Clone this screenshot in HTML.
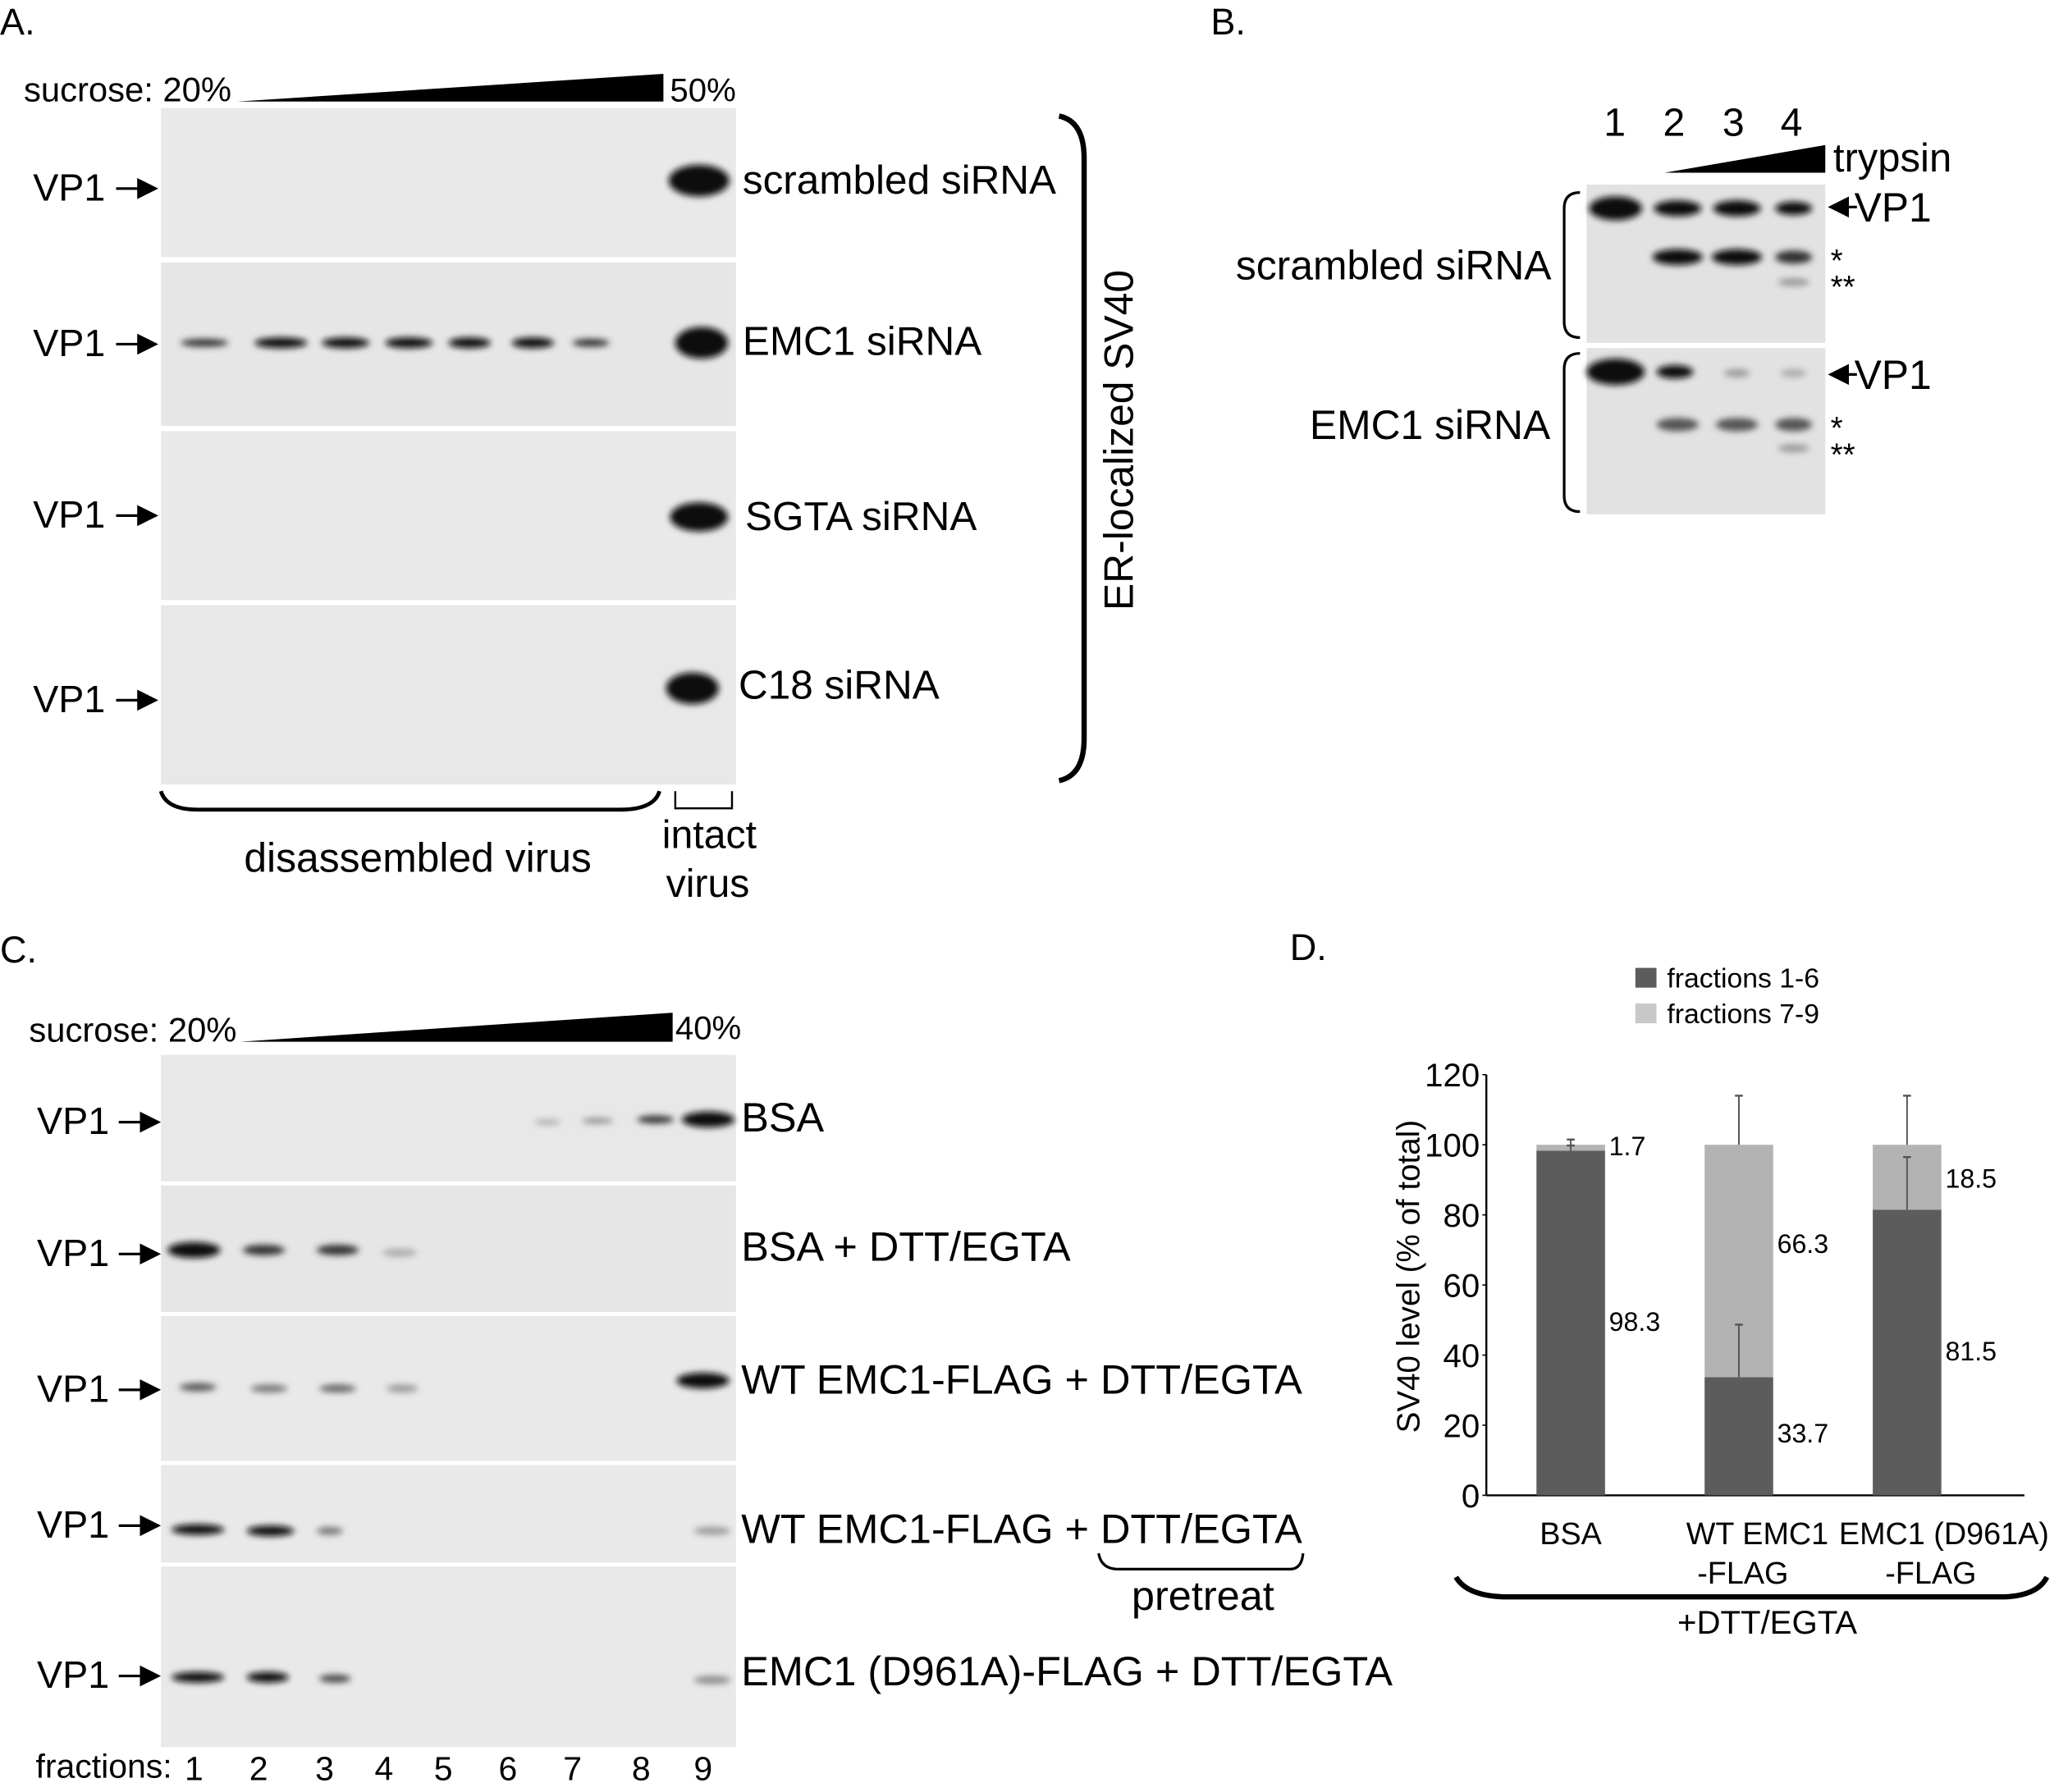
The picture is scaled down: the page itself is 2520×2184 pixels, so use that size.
<!DOCTYPE html>
<html><head><meta charset="utf-8"><style>
html,body{margin:0;padding:0;background:#fff}
svg{display:block;font-family:"Liberation Sans",Arial,sans-serif}
</style></head><body>
<svg width="2520" height="2184" viewBox="0 0 1568 1359" xmlns="http://www.w3.org/2000/svg">
<defs>
<filter id="bl" x="-50%" y="-200%" width="200%" height="500%"><feGaussianBlur stdDeviation="2.5"/></filter>
<marker id="ar" markerWidth="8" markerHeight="8" refX="7" refY="4" orient="auto"><path d="M0,0 L8,4 L0,8 Z" fill="#000"/></marker>
</defs>
<g font-size="30.8" fill="#000">
<!-- Panel A -->
<text x="0" y="26" font-size="28">A.</text>
<text x="18" y="77" font-size="26">sucrose: 20%</text>
<polygon points="180,77 503,56 503,77" fill="#000"/>
<text x="508" y="77" font-size="25">50%</text>
<g>
<rect x="122" y="82" width="436" height="113" fill="#e9e9e9"/>
<rect x="122" y="199" width="436" height="124" fill="#e6e6e6"/>
<rect x="122" y="327" width="436" height="128" fill="#e9e9e9"/>
<rect x="122" y="459" width="436" height="136" fill="#e8e8e8"/>
<g filter="url(#bl)" fill="#111">
<ellipse cx="530" cy="137" rx="23" ry="12"/>
<ellipse cx="532" cy="260" rx="20" ry="12"/>
<ellipse cx="530" cy="392" rx="22" ry="11"/>
<ellipse cx="525" cy="522" rx="20" ry="12"/>
<ellipse cx="155" cy="260" rx="18" ry="3" fill="#333"/>
<ellipse cx="213" cy="260" rx="20" ry="4"/>
<ellipse cx="262" cy="260" rx="18" ry="4"/>
<ellipse cx="310" cy="260" rx="18" ry="4"/>
<ellipse cx="356" cy="260" rx="16" ry="4"/>
<ellipse cx="404" cy="260" rx="16" ry="4"/>
<ellipse cx="448" cy="260" rx="14" ry="3" fill="#333"/>
</g></g>
<g font-size="29">
<text x="25" y="152">VP1</text><line x1="88" y1="143" x2="118" y2="143" stroke="#000" stroke-width="2" marker-end="url(#ar)"/>
<text x="25" y="270">VP1</text><line x1="88" y1="261" x2="118" y2="261" stroke="#000" stroke-width="2" marker-end="url(#ar)"/>
<text x="25" y="400">VP1</text><line x1="88" y1="391" x2="118" y2="391" stroke="#000" stroke-width="2" marker-end="url(#ar)"/>
<text x="25" y="540">VP1</text><line x1="88" y1="531" x2="118" y2="531" stroke="#000" stroke-width="2" marker-end="url(#ar)"/>
</g>
<text x="563" y="147">scrambled siRNA</text>
<text x="563" y="269">EMC1 siRNA</text>
<text x="565" y="402">SGTA siRNA</text>
<text x="560" y="530">C18 siRNA</text>
<path d="M803,88 Q822,92 822,120 L822,560 Q822,588 803,592" fill="none" stroke="#000" stroke-width="4"/>
<text transform="translate(859,463) rotate(-90)" font-size="31">ER-localized SV40</text>
<path d="M122,600 Q126,614 150,614 L470,614 Q496,614 500,600" fill="none" stroke="#000" stroke-width="3"/>
<path d="M512,600 L512,613 L555,613 L555,600" fill="none" stroke="#000" stroke-width="1.5"/>
<text x="185" y="661" font-size="31">disassembled virus</text>
<text x="502" y="643" font-size="30">intact</text>
<text x="505" y="680" font-size="30">virus</text>

<!-- Panel B -->
<text x="918" y="26" font-size="28">B.</text>
<g font-size="30">
<text x="1216" y="103">1</text><text x="1261" y="103">2</text><text x="1306" y="103">3</text><text x="1350" y="103">4</text>
</g>
<polygon points="1262,131 1384,110 1384,131" fill="#000"/>
<text x="1390" y="130" font-size="30.5">trypsin</text>
<g>
<rect x="1203" y="140" width="181" height="120" fill="#e2e2e2"/>
<rect x="1203" y="264" width="181" height="126" fill="#e2e2e2"/>
<g filter="url(#bl)" fill="#111">
<ellipse cx="1225" cy="158" rx="20" ry="9"/><ellipse cx="1272" cy="158" rx="18" ry="6"/><ellipse cx="1317" cy="158" rx="18" ry="6"/><ellipse cx="1360" cy="158" rx="14" ry="5"/>
<ellipse cx="1272" cy="195" rx="19" ry="6"/><ellipse cx="1317" cy="195" rx="19" ry="6"/><ellipse cx="1360" cy="195" rx="14" ry="5" fill="#333"/>
<ellipse cx="1360" cy="214" rx="12" ry="3" fill="#999"/>
<ellipse cx="1225" cy="282" rx="22" ry="10"/><ellipse cx="1270" cy="282" rx="14" ry="5"/>
<ellipse cx="1317" cy="283" rx="10" ry="3" fill="#999"/><ellipse cx="1360" cy="283" rx="10" ry="3" fill="#aaa"/>
<ellipse cx="1272" cy="322" rx="16" ry="5" fill="#555"/><ellipse cx="1317" cy="322" rx="16" ry="5" fill="#555"/><ellipse cx="1360" cy="322" rx="14" ry="5" fill="#555"/>
<ellipse cx="1360" cy="340" rx="12" ry="3" fill="#999"/>
</g></g>
<line x1="1408" y1="157" x2="1388" y2="157" stroke="#000" stroke-width="2" marker-end="url(#ar)"/>
<text x="1406" y="168" font-size="31">VP1</text>
<line x1="1408" y1="284" x2="1388" y2="284" stroke="#000" stroke-width="2" marker-end="url(#ar)"/>
<text x="1406" y="295" font-size="31">VP1</text>
<text x="1388" y="206" font-size="24">*</text>
<text x="1388" y="226" font-size="24">**</text>
<text x="1388" y="333" font-size="24">*</text>
<text x="1388" y="353" font-size="24">**</text>
<path d="M1198,146 Q1186,146 1186,158 L1186,244 Q1186,256 1198,256" fill="none" stroke="#000" stroke-width="2"/>
<path d="M1198,268 Q1186,268 1186,280 L1186,376 Q1186,388 1198,388" fill="none" stroke="#000" stroke-width="2"/>
<text x="937" y="212" font-size="31">scrambled siRNA</text>
<text x="993" y="333" font-size="31">EMC1 siRNA</text>

<!-- Panel C -->
<text x="0" y="730" font-size="28">C.</text>
<text x="22" y="790" font-size="26">sucrose: 20%</text>
<polygon points="182,790 510,768 510,790" fill="#000"/>
<text x="512" y="788" font-size="25">40%</text>
<g>
<rect x="122" y="800" width="436" height="96" fill="#e8e8e8"/>
<rect x="122" y="899" width="436" height="96" fill="#e6e6e6"/>
<rect x="122" y="998" width="436" height="110" fill="#e9e9e9"/>
<rect x="122" y="1111" width="436" height="74" fill="#e9e9e9"/>
<rect x="122" y="1188" width="436" height="137" fill="#e9e9e9"/>
<g filter="url(#bl)" fill="#111">
<ellipse cx="537" cy="849" rx="20" ry="6"/><ellipse cx="497" cy="849" rx="14" ry="3" fill="#333"/><ellipse cx="453" cy="850" rx="12" ry="2" fill="#888"/><ellipse cx="415" cy="851" rx="10" ry="2" fill="#aaa"/>
<ellipse cx="147" cy="948" rx="20" ry="6"/><ellipse cx="200" cy="948" rx="16" ry="4" fill="#333"/><ellipse cx="256" cy="948" rx="16" ry="4" fill="#333"/><ellipse cx="303" cy="950" rx="13" ry="3" fill="#aaa"/>
<ellipse cx="533" cy="1047" rx="20" ry="6"/><ellipse cx="150" cy="1052" rx="14" ry="3" fill="#555"/><ellipse cx="204" cy="1053" rx="14" ry="3" fill="#777"/><ellipse cx="256" cy="1053" rx="14" ry="3" fill="#666"/><ellipse cx="305" cy="1053" rx="12" ry="3" fill="#999"/>
<ellipse cx="150" cy="1160" rx="20" ry="4"/><ellipse cx="205" cy="1161" rx="18" ry="4"/><ellipse cx="250" cy="1161" rx="10" ry="3" fill="#777"/><ellipse cx="540" cy="1161" rx="14" ry="3" fill="#999"/>
<ellipse cx="150" cy="1272" rx="20" ry="4"/><ellipse cx="203" cy="1272" rx="16" ry="4"/><ellipse cx="254" cy="1273" rx="12" ry="3" fill="#444"/><ellipse cx="540" cy="1274" rx="14" ry="3" fill="#888"/>
</g></g>
<g font-size="29">
<text x="28" y="860">VP1</text><line x1="90" y1="851" x2="120" y2="851" stroke="#000" stroke-width="2" marker-end="url(#ar)"/>
<text x="28" y="960">VP1</text><line x1="90" y1="951" x2="120" y2="951" stroke="#000" stroke-width="2" marker-end="url(#ar)"/>
<text x="28" y="1063">VP1</text><line x1="90" y1="1054" x2="120" y2="1054" stroke="#000" stroke-width="2" marker-end="url(#ar)"/>
<text x="28" y="1166">VP1</text><line x1="90" y1="1157" x2="120" y2="1157" stroke="#000" stroke-width="2" marker-end="url(#ar)"/>
<text x="28" y="1280">VP1</text><line x1="90" y1="1271" x2="120" y2="1271" stroke="#000" stroke-width="2" marker-end="url(#ar)"/>
</g>
<g font-size="31.4">
<text x="562" y="858">BSA</text>
<text x="562" y="956">BSA + DTT/EGTA</text>
<text x="562" y="1057">WT EMC1-FLAG + DTT/EGTA</text>
<text x="562" y="1170">WT EMC1-FLAG + DTT/EGTA</text>
<text x="858" y="1221">pretreat</text>
<text x="562" y="1278">EMC1 (D961A)-FLAG + DTT/EGTA</text>
</g>
<path d="M833,1178 Q835,1190 848,1190 L978,1190 Q987,1190 988,1178" fill="none" stroke="#000" stroke-width="2"/>
<g font-size="25.5">
<text x="27" y="1348">fractions:</text>
<text x="140" y="1350">1</text><text x="189" y="1350">2</text><text x="239" y="1350">3</text><text x="284" y="1350">4</text><text x="329" y="1350">5</text><text x="378" y="1350">6</text><text x="427" y="1350">7</text><text x="479" y="1350">8</text><text x="526" y="1350">9</text>
</g>

<!-- Panel D -->
<text x="978" y="728" font-size="28">D.</text>
<g id="chartD"></g>
</g>
<script>
const categories=["BSA","WT EMC1|-FLAG","EMC1 (D961A)|-FLAG"];
const lowVals=[98.3,33.7,81.5];
const highVals=[1.7,66.3,18.5];
const lowErr=[1.5,15,15];
const topErr=[1.5,14,14];
const yTicks=[0,20,40,60,80,100,120];
(function(){
const NS="http://www.w3.org/2000/svg";
const g=document.getElementById('chartD');
const x0=1127,yBase=1134,yTop=815,yMax=120;
const y=v=>yBase-(yBase-yTop)*v/yMax;
const xc=i=>1191+i*127.5;
const bw=52;
const labOff=[[0,0],[14,3],[28,18]];
function mk(t,a,txt){const e=document.createElementNS(NS,t);for(const k in a)e.setAttribute(k,a[k]);if(txt!=null)e.textContent=txt;g.appendChild(e);return e;}
let e;
e=mk('line',{x1:x0,y1:yTop,x2:x0,y2:yBase,stroke:'#000','stroke-width':1.5});


e=mk('line',{x1:x0,y1:yBase,x2:1535,y2:yBase,stroke:'#000','stroke-width':1.5});


yTicks.forEach(t=>{
 e=mk('text',{x:x0-5,y:y(t)+9,'text-anchor':'end','font-size':25},String(t));
 
 
 mk('line',{x1:x0-3,y1:y(t),x2:x0,y2:y(t),stroke:'#000'});
});
e=mk('text',{transform:'translate(1076,968) rotate(-90)','text-anchor':'middle','font-size':24},'SV40 level (% of total)');


categories.forEach((c,i)=>{
 const lo=lowVals[i],hi=highVals[i];
 e=mk('rect',{x:xc(i)-bw/2,y:y(lo),width:bw,height:yBase-y(lo),fill:'#5c5c5c'});
 
 
 e=mk('rect',{x:xc(i)-bw/2,y:y(lo+hi),width:bw,height:y(lo)-y(lo+hi),fill:'#b3b3b3'});
 
 
 [[lo,lowErr[i]],[lo+hi,topErr[i]]].forEach(([v,er])=>{
  mk('line',{x1:xc(i),y1:y(v),x2:xc(i),y2:y(v+er),stroke:'#555','stroke-width':1.2});
  mk('line',{x1:xc(i)-3,y1:y(v+er),x2:xc(i)+3,y2:y(v+er),stroke:'#555','stroke-width':1.5});
 });
 const tx=xc(i)+bw/2+3;
 const hiY=hi<5?y(lo+hi)+8:y(lo+hi/2)-(i==1?6:-8);
 e=mk('text',{x:tx,y:hiY,'font-size':20},String(hi));
 
 
 const loY=i==1?yBase-40:y(lo/2)+6;
 e=mk('text',{x:tx,y:i==0?y(lo/2)+6:loY,'font-size':20},String(lo));
 
 
 const parts=c.split('|');
 parts.forEach((p,j)=>{
  e=mk('text',{x:xc(i)+labOff[i][j],y:1171+j*30,'text-anchor':'middle','font-size':23.5},p);
  
  
 });
});
e=mk('path',{d:'M1104,1196 Q1112,1210 1140,1211 L1520,1211 Q1545,1210 1552,1196',fill:'none',stroke:'#000','stroke-width':4});


e=mk('text',{x:1340,y:1239,'text-anchor':'middle','font-size':25},'+DTT/EGTA');


[['#5c5c5c','fractions 1-6',743],['#c8c8c8','fractions 7-9',770]].forEach(([col,lab,yy],k)=>{
 e=mk('rect',{x:1240,y:yy-9,width:16,height:15,fill:col});
 
 
 e=mk('text',{x:1264,y:yy+6,'font-size':21},lab);
 
 
});
})();
</script>
</svg>
</body></html>
